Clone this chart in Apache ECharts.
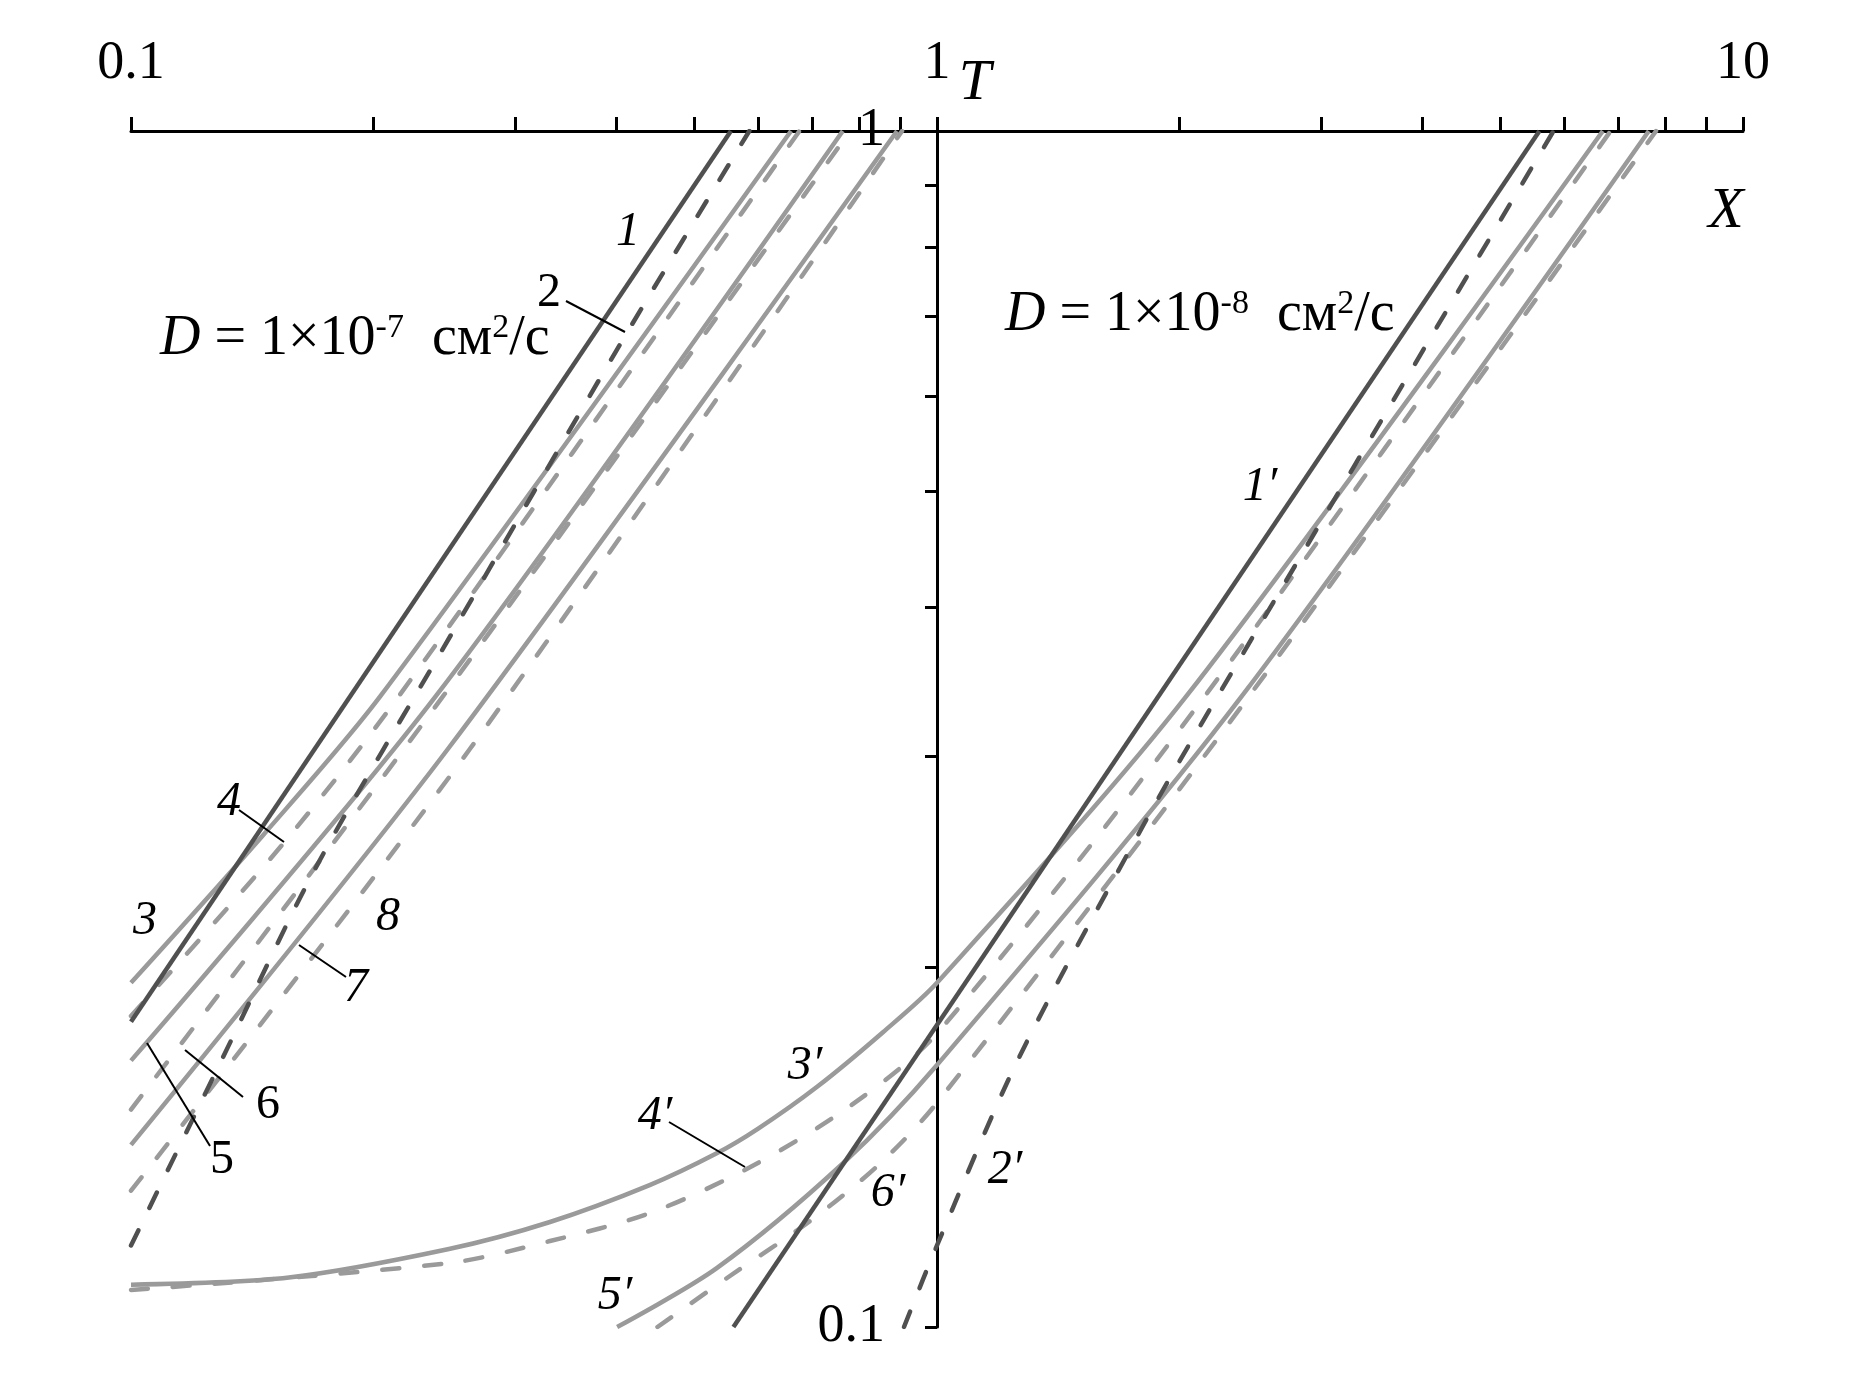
<!DOCTYPE html>
<html><head><meta charset="utf-8">
<script src="https://cdn.jsdelivr.net/npm/echarts@6/dist/echarts.min.js"></script>
<style>html,body{margin:0;padding:0;background:#fff}#c{width:1860px;height:1381px}</style>
</head><body><div id="c"></div>
<script>
// Axis ticks / labels (real values, log scale)
const xTickValues = [0.1,0.2,0.3,0.4,0.5,0.6,0.7,0.8,0.9,1,2,3,4,5,6,7,8,9,10];
const xLabelValues = [0.1,1,10];
const yTickValues = [0.1,0.2,0.3,0.4,0.5,0.6,0.7,0.8,0.9,1];
const yLabelValues = [0.1,1];

// D = 1e-7 cm2/s group : [X, T]
const c1 = [[0.1,0.180],[0.555,1]];
const c2 = [[0.1,0.117],[0.13,0.168],[0.17,0.243],[0.25,0.38],[0.4,0.655],[0.585,1]];
const c3 = [[0.1,0.194],[0.146,0.258],[0.204,0.337],[0.659,1]];
const c4 = [[0.1,0.182],[0.154,0.253],[0.215,0.337],[0.675,1]];
const c5 = [[0.1,0.167],[0.239,0.337],[0.764,1]];
const c6 = [[0.1,0.152],[0.244,0.337],[0.78,1]];
const c7 = [[0.1,0.142],[0.247,0.304],[0.892,1]];
const c8 = [[0.1,0.130],[0.263,0.304],[0.905,1]];

// D = 1e-8 cm2/s group
const p1 = [[0.559,0.1],[5.59,1]];
const p2 = [[0.91,0.1],[1.0,0.117],[1.264,0.168],[1.81,0.264],[2.12,0.318],[5.82,1]];
const p3 = [[0.1,0.1085],[0.157,0.110],[0.248,0.1162],[0.331,0.1224],[0.44,0.1314],[0.533,0.1397],[0.6,0.1465],[0.71,0.1588],[0.857,0.1764],[1,0.194],[2.04,0.337],[6.70,1]];
const p4 = [[0.1,0.1074],[0.248,0.1131],[0.331,0.118],[0.44,0.1245],[0.586,0.136],[0.78,0.153],[1,0.176],[2.15,0.337],[6.85,1]];
const p5 = [[0.401,0.1],[0.533,0.112],[0.764,0.137],[1,0.1656],[2.39,0.337],[7.64,1]];
const p6 = [[0.45,0.1],[0.55,0.110],[0.7,0.123],[0.85,0.137],[1,0.154],[2.44,0.337],[7.8,1]];

const DARK = '#505050', GREY = '#9a9a9a';
const curves = [
  {d:c3,c:GREY,dash:false},{d:c4,c:GREY,dash:true},{d:c5,c:GREY,dash:false},{d:c6,c:GREY,dash:true},
  {d:c7,c:GREY,dash:false},{d:c8,c:GREY,dash:true},{d:c1,c:DARK,dash:false},{d:c2,c:DARK,dash:true},
  {d:p3,c:GREY,dash:false},{d:p4,c:GREY,dash:true},{d:p5,c:GREY,dash:false},{d:p6,c:GREY,dash:true},
  {d:p1,c:DARK,dash:false},{d:p2,c:DARK,dash:true}
];

const SERIF = '"Liberation Serif","Times New Roman",serif';
const fmt = v => String(+Math.pow(10, v).toPrecision(6));

const curveLabels = [
  ['1',628,232,true],['2',549,293,false],['3',145,921,true],['4',229,802,true],
  ['5',222,1160,false],['6',268,1105,false],['7',356,988,true],['8',388,917,true],
  ['1\u2032',1260,487,true],['2\u2032',1005,1170,true],['3\u2032',805,1066,true],
  ['4\u2032',655,1116,true],['5\u2032',615,1296,true],['6\u2032',888,1193,true]
];
const leaders = [
  [566,301,625,332],[239,810,284,842],[299,945,346,977],[185,1050,243,1097],
  [147,1043,210,1146],[669,1122,745,1167]
];

const graphics = [];
curveLabels.forEach(l => graphics.push({type:'text', x:l[1], y:l[2], z:100,
  style:{text:l[0], fontFamily:SERIF, fontSize:48, fontStyle:l[3]?'italic':'normal', fill:'#000', align:'center', verticalAlign:'middle'}}));
leaders.forEach(s => graphics.push({type:'line', z:100, shape:{x1:s[0],y1:s[1],x2:s[2],y2:s[3]}, style:{stroke:'#000', lineWidth:2}}));
const richD = {
  n:{fontFamily:SERIF,fontSize:56,fill:'#000'},
  i:{fontFamily:SERIF,fontSize:56,fontStyle:'italic',fill:'#000'},
  s:{fontFamily:SERIF,fontSize:34,fill:'#000',verticalAlign:'top'}
};
graphics.push({type:'text', x:160, y:339, z:100, style:{text:'{i|D}{n| = 1×10}{s|-7}{n|  см}{s|2}{n|/с}', rich:richD, align:'left', verticalAlign:'middle'}});
graphics.push({type:'text', x:1005, y:315, z:100, style:{text:'{i|D}{n| = 1×10}{s|-8}{n|  см}{s|2}{n|/с}', rich:richD, align:'left', verticalAlign:'middle'}});
graphics.push({type:'text', x:975, y:84, z:100, style:{text:'T', fontFamily:SERIF, fontSize:58, fontStyle:'italic', fill:'#000', align:'center', verticalAlign:'middle'}});
graphics.push({type:'text', x:1726, y:212, z:100, style:{text:'X', fontFamily:SERIF, fontSize:58, fontStyle:'italic', fill:'#000', align:'center', verticalAlign:'middle'}});

const chart = echarts.init(document.getElementById('c'), null, {renderer:'canvas'});
chart.setOption({
  animation:false,
  backgroundColor:'#fff',
  grid:{left:131, right:117, top:131, bottom:54, containLabel:false},
  xAxis:{type:'value', position:'top', min:-1, max:1,
    axisLine:{onZero:false, lineStyle:{color:'#000', width:3}},
    axisTick:{show:true, length:14, lineStyle:{color:'#000', width:3}, customValues:xTickValues.map(v=>Math.log10(v))},
    axisLabel:{customValues:xLabelValues.map(v=>Math.log10(v)), formatter:fmt, fontFamily:SERIF, fontSize:54, color:'#000', margin:40},
    splitLine:{show:false}},
  yAxis:{type:'value', position:'left', min:-1, max:0, offset:-806,
    axisLine:{onZero:false, lineStyle:{color:'#000', width:3}},
    axisTick:{show:true, length:12, lineStyle:{color:'#000', width:3}, customValues:yTickValues.map(v=>Math.log10(v))},
    axisLabel:{customValues:yLabelValues.map(v=>Math.log10(v)), formatter:fmt, fontFamily:SERIF, fontSize:54, color:'#000', margin:52},
    splitLine:{show:false}},
  series: curves.map(c => ({
    type:'line', data:c.d.map(p=>[Math.log10(p[0]), Math.log10(p[1])]),
    symbol:'none', showSymbol:false, silent:true, clip:true,
    smooth: c.d.length > 2 ? 0.3 : false,
    lineStyle:{color:c.c, width:4.5, type:c.dash ? [17,25] : 'solid', cap:c.dash ? 'round' : 'butt'}
  })),
  graphic: graphics
});
</script></body></html>
